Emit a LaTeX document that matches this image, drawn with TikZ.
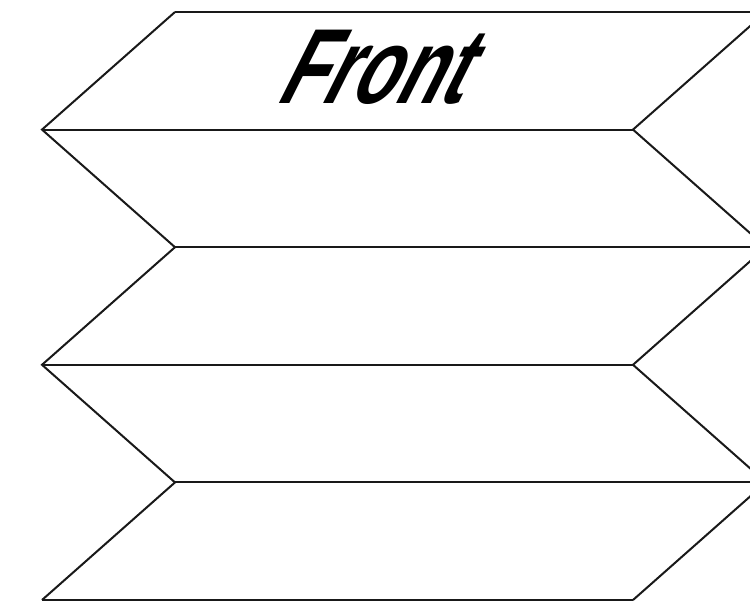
\documentclass[tikz,border=0pt]{standalone}
\usepackage{fontspec}
\newfontfamily\frontfont[FakeSlant=0.5,FakeStretch=0.68]{Liberation Sans Bold}
\begin{document}
\begin{tikzpicture}[x=0.75pt,y=-0.75pt,
  fold/.style={line width=1.5pt,line join=miter,color=black!90}]
\useasboundingbox (0,0) rectangle (750,607);
\clip (0,0) rectangle (750,607);
\foreach \i/\y in {0/12,1/129.6,2/247.2,3/364.8,4/482.4,5/600} {
  \coordinate (y\i) at (0,\y);
}
% left apexes and right apexes
\foreach \i in {0,2,4} {
  \coordinate (L\i) at (175,0 |- y\i);
  \coordinate (R\i) at (766,0 |- y\i);
}
\foreach \i in {1,3,5} {
  \coordinate (L\i) at (42,0 |- y\i);
  \coordinate (R\i) at (633,0 |- y\i);
}
\draw[fold] (L0) -- (L1) -- (L2) -- (L3) -- (L4) -- (L5);
\draw[fold] (R0) -- (R1) -- (R2) -- (R3) -- (R4) -- (R5);
\foreach \i in {0,...,5} { \draw[fold] (L\i) -- (R\i); }
\node (front) at (367,67) {\fontsize{80}{80}\frontfont Front};
\end{tikzpicture}
\end{document}
